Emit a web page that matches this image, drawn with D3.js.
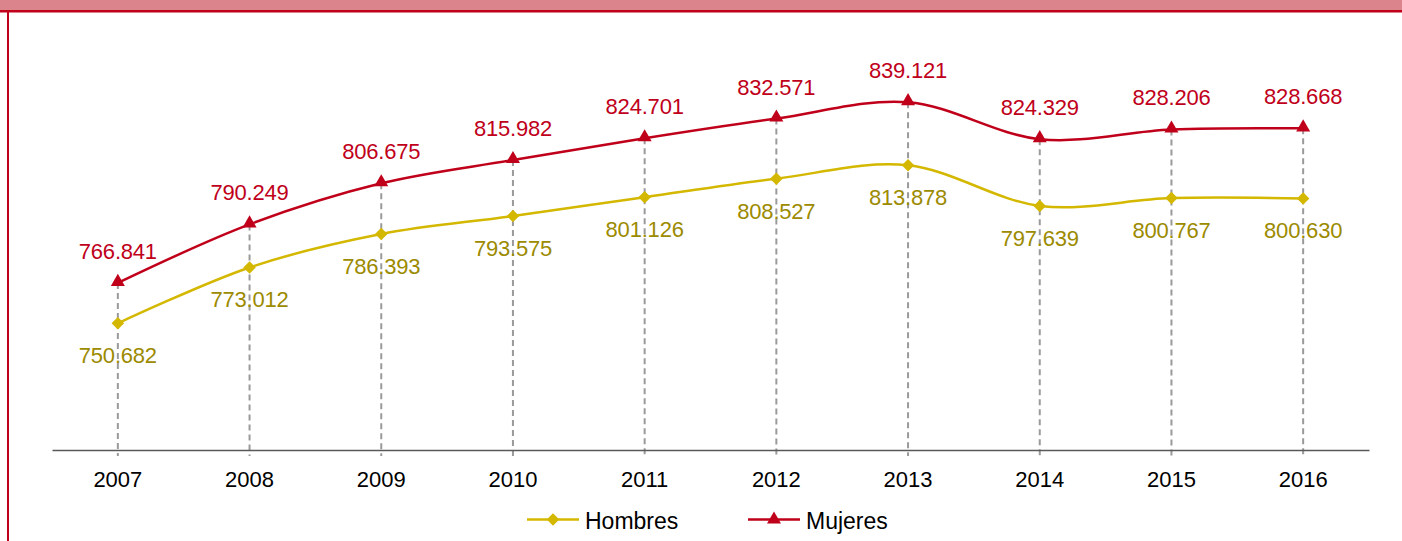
<!DOCTYPE html>
<html>
<head>
<meta charset="utf-8">
<script src="https://cdn.jsdelivr.net/npm/d3@7"></script>
<style>
  body { margin: 0; background: #fff; }
  svg { display: block; font-family: "Liberation Sans", Arial, sans-serif; }
</style>
</head>
<body>
<div id="wrapper"></div>
<script>
// data
const years = ["2007", "2008", "2009", "2010", "2011", "2012", "2013", "2014", "2015", "2016"];
const hombres = [750.682, 773.012, 786.393, 793.575, 801.126, 808.527, 813.878, 797.639, 800.767, 800.630];
const mujeres = [766.841, 790.249, 806.675, 815.982, 824.701, 832.571, 839.121, 824.329, 828.206, 828.668];
const seriesNames = ["Hombres", "Mujeres"];

const width = 1402;
const height = 541;

const svg = d3.select("#wrapper")
  .append("svg")
    .attr("width", width)
    .attr("height", height);

// header band + frame
svg.append("rect")
    .attr("x", 0).attr("y", 0)
    .attr("width", width).attr("height", 10)
    .attr("fill", "#dc848c");
svg.append("rect")
    .attr("x", 0).attr("y", 10)
    .attr("width", width).attr("height", 2.5)
    .attr("fill", "#c0001a");
svg.append("rect")
    .attr("x", 7).attr("y", 10)
    .attr("width", 2).attr("height", height - 10)
    .attr("fill", "#c0001a");

// scales
const xScale = d3.scaleBand()
  .domain(years)
  .range([52, 1369]);

const xCenter = d => xScale(d) + xScale.bandwidth() / 2;

const yScale = d3.scaleLinear()
  .domain([700, 880])
  .range([450, 0]);

const fmt = d3.format(".3f");

// drop lines
svg.append("g")
  .selectAll("line")
  .data(years)
  .join("line")
    .attr("x1", d => xCenter(d))
    .attr("x2", d => xCenter(d))
    .attr("y1", (d, i) => yScale(mujeres[i]))
    .attr("y2", yScale(700) + 6)
    .attr("stroke", "#9a9a9a")
    .attr("stroke-width", 2)
    .attr("stroke-dasharray", "6,4");

// x axis
const xAxis = svg.append("g")
    .attr("transform", `translate(0, ${yScale(700)})`)
    .call(d3.axisBottom(xScale).tickSize(0).tickPadding(21));
xAxis.select(".domain").attr("stroke", "#595959").attr("stroke-width", 1.5);
xAxis.selectAll("text")
    .attr("font-size", 22)
    .attr("font-family", "Liberation Sans, Arial, sans-serif")
    .attr("fill", "#000");

const line = d3.line()
  .x((d, i) => xCenter(years[i]))
  .y(d => yScale(d))
  .curve(d3.curveCatmullRom.alpha(0));

const colors = { Hombres: "#d4b800", Mujeres: "#c0001a" };
const labelColors = { Hombres: "#9c8a00", Mujeres: "#c0001a" };

// Hombres
svg.append("path")
    .datum(hombres)
    .attr("d", line)
    .attr("fill", "none")
    .attr("stroke", colors.Hombres)
    .attr("stroke-width", 2.5);

const diamond = d3.symbol().type(d3.symbolDiamond2).size(100);
const triangle = d3.symbol().type(d3.symbolTriangle).size(85);

svg.append("g")
  .selectAll("path")
  .data(hombres)
  .join("path")
    .attr("d", diamond)
    .attr("transform", (d, i) => `translate(${xCenter(years[i])}, ${yScale(d)})`)
    .attr("fill", colors.Hombres);

svg.append("g")
  .selectAll("text")
  .data(hombres)
  .join("text")
    .attr("x", (d, i) => xCenter(years[i]))
    .attr("y", d => yScale(d) + 40)
    .attr("text-anchor", "middle")
    .attr("font-size", 22)
    .attr("letter-spacing", -0.2)
    .attr("fill", labelColors.Hombres)
    .text(d => fmt(d));

// Mujeres
svg.append("path")
    .datum(mujeres)
    .attr("d", line)
    .attr("fill", "none")
    .attr("stroke", colors.Mujeres)
    .attr("stroke-width", 2.5);

svg.append("g")
  .selectAll("path")
  .data(mujeres)
  .join("path")
    .attr("d", triangle)
    .attr("transform", (d, i) => `translate(${xCenter(years[i])}, ${yScale(d) - 1})`)
    .attr("fill", colors.Mujeres);

svg.append("g")
  .selectAll("text")
  .data(mujeres)
  .join("text")
    .attr("x", (d, i) => xCenter(years[i]))
    .attr("y", d => yScale(d) - 24)
    .attr("text-anchor", "middle")
    .attr("font-size", 22)
    .attr("letter-spacing", -0.2)
    .attr("fill", labelColors.Mujeres)
    .text(d => fmt(d));

// legend
const legendX = [527, 748];
const legend = svg.append("g")
  .selectAll("g")
  .data(seriesNames)
  .join("g")
    .attr("transform", (d, i) => `translate(${legendX[i]}, 519.5)`);

legend.append("line")
    .attr("x1", 0).attr("x2", 52)
    .attr("stroke", d => colors[d])
    .attr("stroke-width", 2.5);
legend.append("path")
    .attr("d", d => d === "Hombres" ? diamond() : triangle())
    .attr("transform", "translate(26, 0)")
    .attr("fill", d => colors[d]);
legend.append("text")
    .attr("x", 58)
    .attr("y", 9.5)
    .attr("font-size", 23)
    .attr("fill", "#000")
    .text(d => d);
</script>
</body>
</html>
